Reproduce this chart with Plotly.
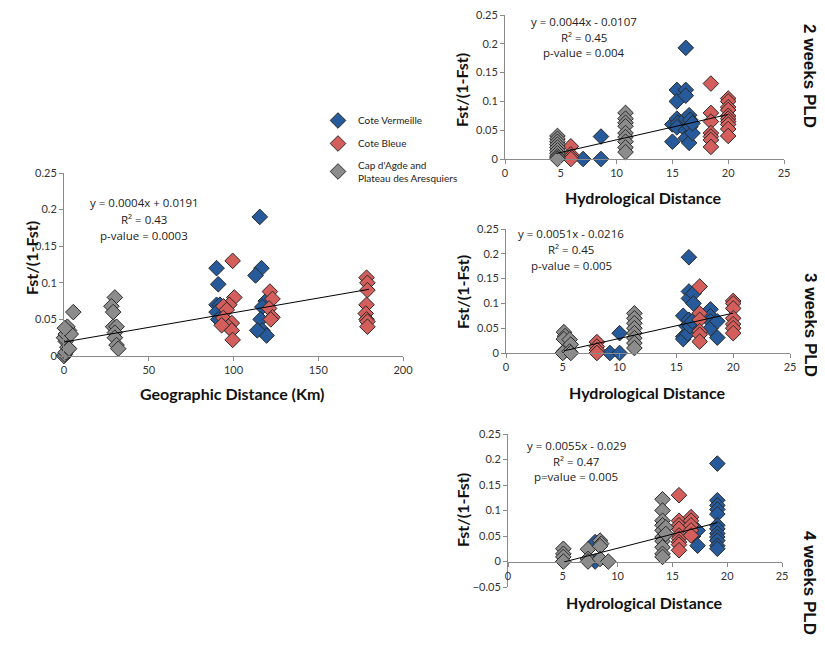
import plotly.graph_objects as go

# ---- geographic distance (left panel)
geo_verm_x = [90, 91, 90, 92, 90, 91, 115.5, 116.5, 113, 119, 117, 116, 117, 119.5, 114]
geo_verm_y = [0.12, 0.098, 0.07, 0.07, 0.06, 0.05, 0.19, 0.12, 0.11, 0.075, 0.067, 0.05, 0.035, 0.028, 0.035]
geo_bleue_x = [99.5, 100.5, 97.5, 94, 96, 94, 99, 97, 99, 99.5, 93, 121.5, 123, 121, 123, 122,
               178.5, 179, 179, 178.5, 178, 178.5, 179, 179]
geo_bleue_y = [0.13, 0.08, 0.07, 0.068, 0.063, 0.052, 0.045, 0.04, 0.035, 0.022, 0.042, 0.088, 0.078, 0.065, 0.053, 0.05,
               0.107, 0.1, 0.09, 0.07, 0.058, 0.05, 0.047, 0.04]
geo_agde_x = [0, 0.5, 1, 2, 1, 0, 1, 3, 2, 4, 3, 0.5, 5.5, 30, 28, 29, 29, 31, 30, 30, 31, 32]
geo_agde_y = [0, 0.002, 0.005, 0.012, 0.02, 0.025, 0.03, 0.035, 0.04, 0.03, 0.01, 0.038, 0.06,
              0.08, 0.068, 0.06, 0.04, 0.04, 0.032, 0.025, 0.015, 0.01]

# ---- hydrological distance, 2 weeks PLD
w2_verm_x = [7.0, 8.6, 8.6, 15.0, 15.0, 15.4, 15.4, 15.4, 15.5, 15.4, 16.2, 16.2, 16.2, 16.2, 16.2, 16.2,
             16.5, 16.6, 16.6, 16.5, 16.8, 16.8]
w2_verm_y = [0, 0.039, 0, 0.03, 0.06, 0.12, 0.1, 0.07, 0.063, 0.055, 0.193, 0.12, 0.11, 0.07, 0.05, 0.036,
             0.076, 0.068, 0.056, 0.028, 0.045, 0.062]
w2_bleue_x = [5.9, 5.9, 5.9, 5.9, 18.45, 18.45, 18.45, 18.45, 18.45, 18.45, 18.45,
              20.0, 20.0, 20.0, 20.0, 20.0, 20.0, 20.0, 20.0, 20.0, 20.0]
w2_bleue_y = [0.022, 0.008, 0.004, 0, 0.131, 0.08, 0.065, 0.045, 0.039, 0.033, 0.021,
              0.105, 0.1, 0.09, 0.085, 0.075, 0.07, 0.065, 0.06, 0.052, 0.04]
w2_agde_x = [4.7, 4.7, 4.7, 4.7, 4.7, 4.7, 4.7, 4.7, 4.7, 4.7,
             10.8, 10.8, 10.8, 10.8, 10.8, 10.8, 10.8, 10.8, 10.8]
w2_agde_y = [0.04, 0.035, 0.03, 0.025, 0.02, 0.015, 0.01, 0.005, 0.002, 0,
             0.08, 0.07, 0.063, 0.057, 0.045, 0.038, 0.03, 0.02, 0.012]

# ---- hydrological distance, 3 weeks PLD
w3_verm_x = [9.15, 10.0, 10.0, 15.6, 15.6, 15.6, 15.9, 16.0, 16.1, 16.1, 16.1, 16.1, 16.2,
             16.5, 16.5, 16.4, 18.0, 18.0, 18.0, 18.0, 18.6, 18.6]
w3_verm_y = [0, 0.04, 0, 0.075, 0.033, 0.028, 0.054, 0.039, 0.193, 0.124, 0.11, 0.067, 0.054,
             0.12, 0.1, 0.064, 0.088, 0.074, 0.064, 0.05, 0.064, 0.031]
w3_bleue_x = [8.0, 8.0, 8.0, 8.0, 17.05, 17.05, 17.05, 17.05, 17.05, 17.05,
              20.0, 20.0, 20.0, 20.0, 20.0, 20.0, 20.0]
w3_bleue_y = [0.022, 0.013, 0.006, 0, 0.134, 0.08, 0.067, 0.044, 0.037, 0.023,
              0.105, 0.1, 0.09, 0.07, 0.058, 0.05, 0.04]
w3_agde_x = [5.1, 5.2, 5.1, 5.1, 5.0, 5.6, 5.7, 5.6, 5.7,
             11.3, 11.3, 11.3, 11.3, 11.3, 11.3, 11.3, 11.3]
w3_agde_y = [0.042, 0.034, 0.028, 0.003, 0, 0.027, 0.017, 0.003, 0,
             0.08, 0.07, 0.06, 0.05, 0.04, 0.03, 0.02, 0.01]

# ---- hydrological distance, 4 weeks PLD
w4_verm_x = [7.95, 7.95, 16.9, 17.0, 16.9, 17.3, 17.3,
             19.1, 19.1, 19.1, 19.1, 19.1, 19.1, 19.1, 19.1, 19.1, 19.1, 19.1, 19.1]
w4_verm_y = [0.038, 0, 0.067, 0.058, 0.05, 0.061, 0.031,
             0.192, 0.12, 0.11, 0.102, 0.093, 0.071, 0.064, 0.055, 0.048, 0.041, 0.031, 0.025]
w4_bleue_x = [15.6, 15.6, 15.6, 15.6, 15.6, 15.6, 15.6, 15.6, 15.6,
              16.7, 16.7, 16.7, 16.7, 16.7]
w4_bleue_y = [0.13, 0.08, 0.071, 0.064, 0.051, 0.045, 0.038, 0.033, 0.022,
              0.087, 0.08, 0.071, 0.061, 0.051]
w4_agde_x = [5.05, 5.05, 5.05, 5.05, 7.3, 7.3, 7.3, 8.4, 8.5, 8.4, 8.4, 9.15,
             14.1, 14.1, 14.1, 14.1, 14.1, 14.1, 14.1, 14.1, 14.1, 14.1, 14.4, 14.4]
w4_agde_y = [0.025, 0.015, 0.009, 0, 0.024, 0.005, 0, 0.041, 0.035, 0.03, 0.005, 0,
             0.122, 0.1, 0.08, 0.071, 0.061, 0.048, 0.04, 0.028, 0.015, 0.009, 0.067, 0.054]

# regression: slope, intercept, x extent
fits = [(0.0004, 0.0191, 0, 180), (0.0044, -0.0107, 4.6, 20),
        (0.0051, -0.0216, 5.1, 20), (0.0055, -0.029, 5.1, 19.1)]
fit_labels = [["y = 0.0004x + 0.0191", "R² = 0.43", "p-value = 0.0003"],
              ["y = 0.0044x - 0.0107", "R² = 0.45", "p-value = 0.004"],
              ["y = 0.0051x - 0.0216", "R² = 0.45", "p-value = 0.005"],
              ["y = 0.0055x - 0.029", "R² = 0.47", "p=value = 0.005"]]
group_names = ["Cote Vermeille", "Cote Bleue", "Cap d'Agde and<br>Plateau des Aresquiers"]
colors = ["#265a9a", "#d45e5b", "#8c8c8c"]

panels = [
    [(geo_verm_x, geo_verm_y), (geo_bleue_x, geo_bleue_y), (geo_agde_x, geo_agde_y)],
    [(w2_verm_x, w2_verm_y), (w2_bleue_x, w2_bleue_y), (w2_agde_x, w2_agde_y)],
    [(w3_verm_x, w3_verm_y), (w3_bleue_x, w3_bleue_y), (w3_agde_x, w3_agde_y)],
    [(w4_verm_x, w4_verm_y), (w4_bleue_x, w4_bleue_y), (w4_agde_x, w4_agde_y)],
]

# page body has an 8px margin, so the figure is shifted by it
OFF = 8
W, H = 825 - OFF, 655 - OFF


def fx(px):
    return (px - OFF) / W


def fy(py):
    return 1 - (py - OFF) / H


# pixel boxes: x0, x1, y_top, y_bottom
boxes = [(64, 403, 173, 356), (505, 784, 15, 159), (506, 790, 229, 353), (508, 782, 434, 587)]

fig = go.Figure()
for p, groups in enumerate(panels):
    xa = "x" if p == 0 else "x%d" % (p + 1)
    ya = "y" if p == 0 else "y%d" % (p + 1)
    for g, (xs, ys) in enumerate(groups):
        fig.add_trace(go.Scatter(
            x=xs, y=ys, mode="markers", xaxis=xa, yaxis=ya, name=group_names[g],
            legendgroup=str(g), showlegend=(p == 0), cliponaxis=False,
            marker=dict(symbol="diamond", size=12, color=colors[g],
                        line=dict(color="#2a2a2a", width=1))))
    s, b, xa0, xa1 = fits[p]
    fig.add_trace(go.Scatter(x=[xa0, xa1], y=[s * xa0 + b, s * xa1 + b], mode="lines",
                             xaxis=xa, yaxis=ya, showlegend=False, hoverinfo="skip",
                             line=dict(color="black", width=1)))

FONT = "Lato, Open Sans, sans-serif"
tickfont = dict(family=FONT, size=11, color="#333")
axis_common = dict(showline=True, linecolor="#8a8a8a", linewidth=1, ticks="outside",
                   ticklen=4, tickcolor="#8a8a8a", showgrid=False, zeroline=False,
                   tickfont=tickfont, automargin=False, ticklabeloverflow="allow")
for p, (x0, x1, yt, yb) in enumerate(boxes):
    xk = "xaxis" if p == 0 else "xaxis%d" % (p + 1)
    yk = "yaxis" if p == 0 else "yaxis%d" % (p + 1)
    ya = "y" if p == 0 else "y%d" % (p + 1)
    xr = [0, 200] if p == 0 else [0, 25]
    yr = [-0.05, 0.25] if p == 3 else [0, 0.25]
    xd = dict(domain=[fx(x0), fx(x1)], range=xr, dtick=50 if p == 0 else 5, **axis_common)
    if p == 3:
        # x axis crosses at y = 0
        y0px = yb - (yb - yt) * 0.05 / 0.30
        xd.update(anchor="free", position=fy(y0px))
    else:
        xd.update(anchor=ya)
    fig.layout[xk] = xd
    fig.layout[yk] = dict(domain=[fy(yb), fy(yt)], range=yr, dtick=0.05,
                          anchor="x" if p == 0 else "x%d" % (p + 1), **axis_common)

title_font = dict(family=FONT, size=16, color="#111")
ann = []
# axis titles
ann.append(dict(x=fx(233), y=fy(393), text="<b>Geographic Distance (Km)</b>", font=title_font))
ann.append(dict(x=fx(31), y=fy(258), text="<b>Fst/(1-Fst)</b>", textangle=-90, font=title_font))
for cy, tx, ty in [(90, 643, 197), (292, 647, 392), (510, 644, 602)]:
    ann.append(dict(x=fx(462), y=fy(cy), text="<b>Fst/(1-Fst)</b>", textangle=-90, font=title_font))
    ann.append(dict(x=fx(tx), y=fy(ty), text="<b>Hydrological Distance</b>", font=title_font))
# equations, one annotation per line
for (cx, cy), lines in zip([(144, 203), (584, 21), (571, 233), (576, 445)], fit_labels):
    for i, txt in enumerate(lines):
        ann.append(dict(x=fx(cx), y=fy(cy + 16 * i), text=txt,
                        font=dict(family="Open Sans, sans-serif", size=11.5, color="#222")))
# PLD labels
for cy, txt in [(76, "2 weeks PLD"), (325, "3 weeks PLD"), (583, "4 weeks PLD")]:
    ann.append(dict(x=fx(810), y=fy(cy), text="<b>%s</b>" % txt, textangle=90,
                    font=dict(family="Liberation Sans, Arial, sans-serif", size=17, color="#111")))
for a in ann:
    a.update(xref="paper", yref="paper", showarrow=False, xanchor="center", yanchor="middle")

fig.update_layout(
    width=W, height=H, margin=dict(l=0, r=0, t=0, b=0),
    plot_bgcolor="white", paper_bgcolor="white",
    annotations=ann,
    legend=dict(x=fx(318), y=fy(106), xanchor="left", yanchor="top",
                font=dict(family=FONT, size=10, color="#222"),
                bgcolor="rgba(0,0,0,0)", tracegroupgap=4),
)

fig.write_html("out.html")
